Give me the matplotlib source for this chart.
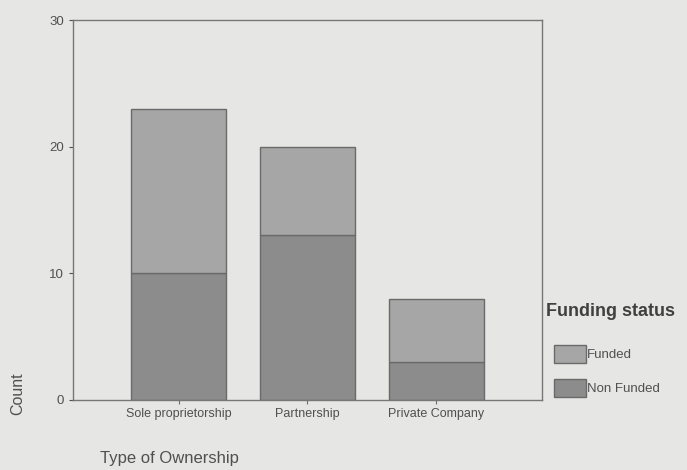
import matplotlib.pyplot as plt
import numpy as np

plt.rcParams['font.family'] = ['Liberation Sans', 'DejaVu Sans']

ownership = ['Sole proprietorship', 'Partnership', 'Private Company']
non_funded = [10, 13, 3]
funded = [13, 7, 5]
y_ticks = [0, 10, 20, 30]

paper = '#e6e6e4'
c_funded = '#a6a6a6'
c_non = '#8c8c8c'
edge = '#6a6a6a'
txt = '#505050'

fig = plt.figure(figsize=(6.87, 4.70), dpi=100, facecolor=paper)
ax = fig.add_axes([0.106, 0.149, 0.683, 0.808])
ax.set_facecolor(paper)

x = np.arange(len(ownership))
b_non = ax.bar(x, non_funded, width=0.74, color=c_non, edgecolor=edge, linewidth=1, label='Non Funded')
b_fun = ax.bar(x, funded, width=0.74, bottom=non_funded, color=c_funded, edgecolor=edge,
               linewidth=1, label='Funded')

ax.set_xlim(-0.82, 2.82)
ax.set_ylim(0, 30)
ax.set_yticks(y_ticks)
ax.set_xticks(x)
ax.set_xticklabels(ownership, fontsize=9, color=txt)
ax.tick_params(axis='y', labelsize=9.5, colors=txt, length=3, width=0.8)
ax.tick_params(axis='x', length=3, width=0.8, colors=edge, labelcolor=txt, pad=3)
for s in ax.spines.values():
    s.set_color('#777777')
    s.set_linewidth(1)

fig.text(18 / 687, 1 - 394 / 470, 'Count', rotation=90, ha='center', va='center',
         fontsize=11.5, color=txt)
fig.text(100 / 687, 1 - 458 / 470, 'Type of Ownership', ha='left', va='center',
         fontsize=12, color=txt)

# legend title drawn separately so the gap below it can be set
fig.text(546 / 687, 1 - 311 / 470, 'Funding status', ha='left', va='center',
         fontsize=13, color='#404040', fontweight='semibold')
leg = fig.legend([b_fun, b_non], ['Funded', 'Non Funded'],
                 loc='upper left', bbox_to_anchor=(545 / 687, 1 - 336 / 470),
                 frameon=False, fontsize=9.5,
                 handlelength=2.4, handleheight=1.7, handletextpad=0.1,
                 labelspacing=1.2, borderpad=0.2)
for t in leg.get_texts():
    t.set_color(txt)

fig.savefig('out.png', dpi=100, facecolor=paper)
